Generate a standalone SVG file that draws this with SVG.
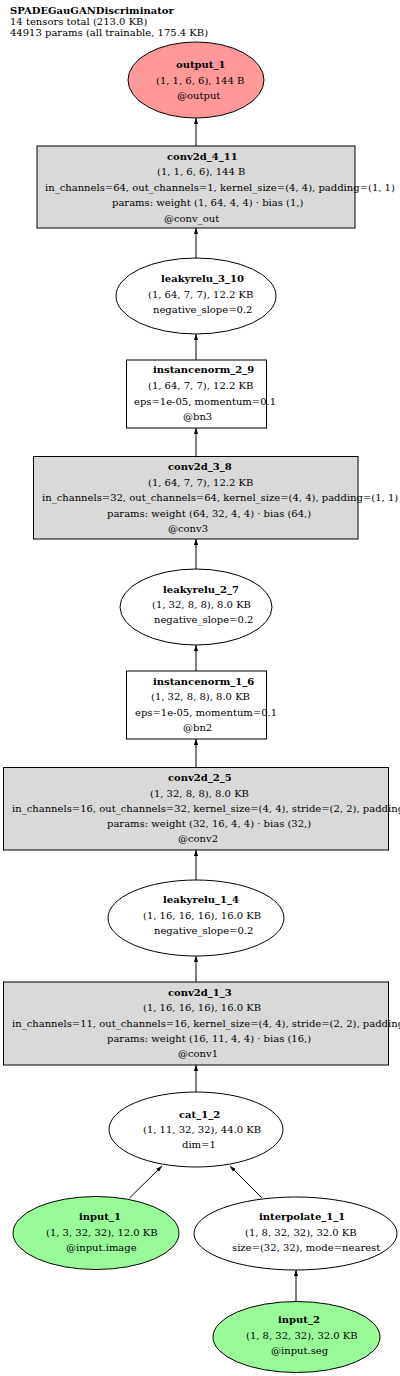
<svg xmlns="http://www.w3.org/2000/svg" width="400" height="1376" viewBox="0 0 400 1376">
<style>
text{font-family:"DejaVu Serif","Liberation Serif",serif;font-size:10px;fill:#000}
.b{font-weight:bold}
.box{fill:#d9d9d9;stroke:#000;stroke-width:1}
.plain{fill:#fff;stroke:#000;stroke-width:1}
.out{fill:#ff9999;stroke:#000;stroke-width:1}
.inp{fill:#98fb98;stroke:#000;stroke-width:1}
.edge{stroke:#000;stroke-width:1;fill:none;marker-end:url(#ah)}
</style>
<defs>
<marker id="ah" viewBox="0 0 10 7" refX="10" refY="3.5" markerWidth="6" markerHeight="4.2" markerUnits="userSpaceOnUse" orient="auto">
<path d="M0,0 L10,3.5 L0,7 z" fill="#000"/>
</marker>
</defs>
<rect x="0" y="0" width="400" height="1376" fill="#fff"/>
<g id="header">
<text class="b" x="10" y="13.5">SPADEGauGANDiscriminator</text>
<text x="10" y="25">14 tensors total (213.0 KB)</text>
<text x="10" y="36">44913 params (all trainable, 175.4 KB)</text>
</g>
<g id="edges">
<line class="edge" x1="196" y1="146" x2="196" y2="118"/>
<line class="edge" x1="196" y1="258" x2="196" y2="228"/>
<line class="edge" x1="196" y1="360" x2="196" y2="334"/>
<line class="edge" x1="196" y1="456.5" x2="196" y2="428"/>
<line class="edge" x1="196" y1="569" x2="196" y2="539"/>
<line class="edge" x1="196" y1="671" x2="196" y2="645"/>
<line class="edge" x1="196" y1="767.5" x2="196" y2="739"/>
<line class="edge" x1="196" y1="880" x2="196" y2="850"/>
<line class="edge" x1="196" y1="982" x2="196" y2="956"/>
<line class="edge" x1="196" y1="1092" x2="196" y2="1065"/>
<line class="edge" x1="129.5" y1="1198" x2="162" y2="1166"/>
<line class="edge" x1="262" y1="1198" x2="230" y2="1166"/>
<line class="edge" x1="296" y1="1302" x2="296" y2="1270"/>
</g>
<g id="output_1">
<ellipse class="out" cx="196" cy="80" rx="68" ry="38"/>
<text class="b" x="176" y="67.5">output_1</text>
<text x="156" y="83.5">(1, 1, 6, 6), 144 B</text>
<text x="177" y="99">@output</text>
</g>
<g id="conv2d_4_11">
<rect class="box" x="37" y="146" width="318" height="82"/>
<text class="b" x="167" y="159.5">conv2d_4_11</text>
<text x="157" y="175">(1, 1, 6, 6), 144 B</text>
<text x="45" y="190.5">in_channels=64, out_channels=1, kernel_size=(4, 4), padding=(1, 1)</text>
<text x="112" y="206">params: weight (1, 64, 4, 4) · bias (1,)</text>
<text x="164" y="221.5">@conv_out</text>
</g>
<g id="leakyrelu_3_10">
<ellipse class="plain" cx="196" cy="296" rx="80" ry="38"/>
<text class="b" x="161" y="282">leakyrelu_3_10</text>
<text x="148" y="297.5">(1, 64, 7, 7), 12.2 KB</text>
<text x="153" y="313">negative_slope=0.2</text>
</g>
<g id="instancenorm_2_9">
<rect class="plain" x="126.5" y="360" width="140" height="68"/>
<text class="b" x="153" y="373">instancenorm_2_9</text>
<text x="148" y="389">(1, 64, 7, 7), 12.2 KB</text>
<text x="134" y="404.5">eps=1e-05, momentum=0.1</text>
<text x="183" y="420">@bn3</text>
</g>
<g id="conv2d_3_8">
<rect class="box" x="33.5" y="456.5" width="324.5" height="82.5"/>
<text class="b" x="168" y="470">conv2d_3_8</text>
<text x="148" y="485.5">(1, 64, 7, 7), 12.2 KB</text>
<text x="42" y="501">in_channels=32, out_channels=64, kernel_size=(4, 4), padding=(1, 1)</text>
<text x="107" y="516.5">params: weight (64, 32, 4, 4) · bias (64,)</text>
<text x="168" y="532">@conv3</text>
</g>
<g id="leakyrelu_2_7">
<ellipse class="plain" cx="196" cy="607" rx="76" ry="38"/>
<text class="b" x="163" y="592.5">leakyrelu_2_7</text>
<text x="152" y="608">(1, 32, 8, 8), 8.0 KB</text>
<text x="154" y="623">negative_slope=0.2</text>
</g>
<g id="instancenorm_1_6">
<rect class="plain" x="126.5" y="671" width="140" height="68"/>
<text class="b" x="153" y="684.5">instancenorm_1_6</text>
<text x="151" y="700">(1, 32, 8, 8), 8.0 KB</text>
<text x="135" y="715.5">eps=1e-05, momentum=0.1</text>
<text x="183" y="731">@bn2</text>
</g>
<g id="conv2d_2_5">
<rect class="box" x="3.5" y="767.5" width="385" height="82.5"/>
<text class="b" x="168" y="781">conv2d_2_5</text>
<text x="150" y="796.5">(1, 32, 8, 8), 8.0 KB</text>
<text x="12" y="812">in_channels=16, out_channels=32, kernel_size=(4, 4), stride=(2, 2), padding=(1, 1)</text>
<text x="107" y="827">params: weight (32, 16, 4, 4) · bias (32,)</text>
<text x="178" y="842">@conv2</text>
</g>
<g id="leakyrelu_1_4">
<ellipse class="plain" cx="196" cy="918" rx="88" ry="38"/>
<text class="b" x="163" y="903">leakyrelu_1_4</text>
<text x="143" y="918.5">(1, 16, 16, 16), 16.0 KB</text>
<text x="154" y="934">negative_slope=0.2</text>
</g>
<g id="conv2d_1_3">
<rect class="box" x="3.5" y="982" width="385" height="83"/>
<text class="b" x="168" y="995.5">conv2d_1_3</text>
<text x="143" y="1011">(1, 16, 16, 16), 16.0 KB</text>
<text x="12" y="1026.5">in_channels=11, out_channels=16, kernel_size=(4, 4), stride=(2, 2), padding=(1, 1)</text>
<text x="107" y="1042">params: weight (16, 11, 4, 4) · bias (16,)</text>
<text x="178" y="1057">@conv1</text>
</g>
<g id="cat_1_2">
<ellipse class="plain" cx="196" cy="1129.5" rx="87" ry="37.5"/>
<text class="b" x="179" y="1118">cat_1_2</text>
<text x="143" y="1133">(1, 11, 32, 32), 44.0 KB</text>
<text x="182" y="1148">dim=1</text>
</g>
<g id="input_1">
<ellipse class="inp" cx="96" cy="1233" rx="83" ry="36.5"/>
<text class="b" x="79" y="1220">input_1</text>
<text x="46" y="1236">(1, 3, 32, 32), 12.0 KB</text>
<text x="66" y="1251">@input.image</text>
</g>
<g id="interpolate_1_1">
<ellipse class="plain" cx="295.5" cy="1233.5" rx="101.5" ry="36.5"/>
<text class="b" x="259" y="1220">interpolate_1_1</text>
<text x="245" y="1236">(1, 8, 32, 32), 32.0 KB</text>
<text x="232" y="1251">size=(32, 32), mode=nearest</text>
</g>
<g id="input_2">
<ellipse class="inp" cx="296.5" cy="1337" rx="83.5" ry="35.5"/>
<text class="b" x="278" y="1323">input_2</text>
<text x="246" y="1338.5">(1, 8, 32, 32), 32.0 KB</text>
<text x="271" y="1354">@input.seg</text>
</g>
</svg>
